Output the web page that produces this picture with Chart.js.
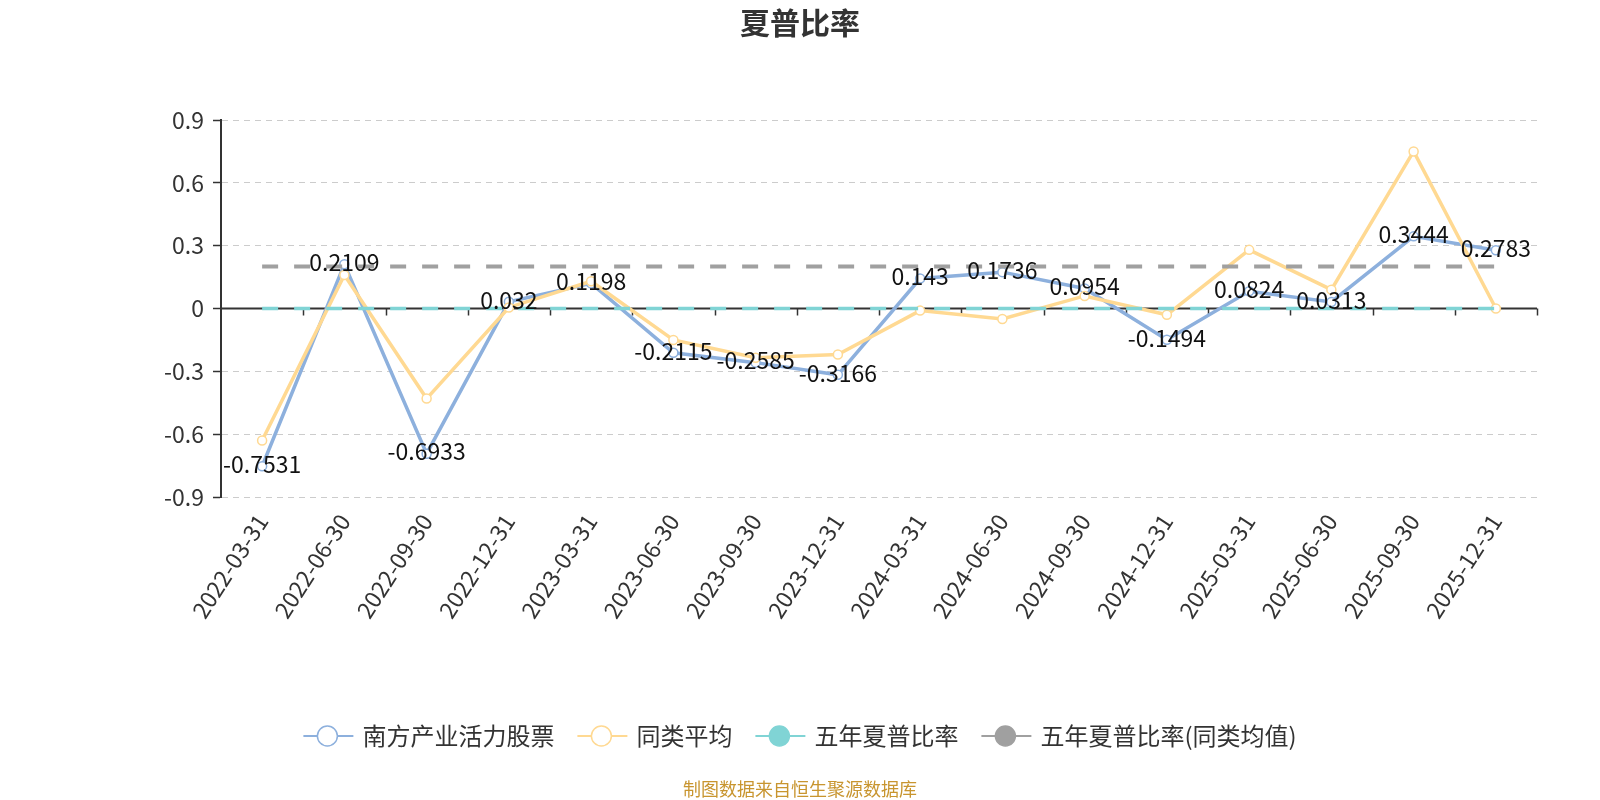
<!DOCTYPE html>
<html>
<head>
<meta charset="utf-8">
<script src="https://cdn.jsdelivr.net/npm/chart.js@4.4.1/dist/chart.umd.min.js"></script>
<style>
    html, body { margin: 0; background: #fff; }
</style>
</head>
<body>
<canvas id="sharpeChart" width="1600" height="800"></canvas>
<script>
const quarters = ["2022-03-31", "2022-06-30", "2022-09-30", "2022-12-31", "2023-03-31", "2023-06-30", "2023-09-30", "2023-12-31",
    "2024-03-31", "2024-06-30", "2024-09-30", "2024-12-31", "2025-03-31", "2025-06-30", "2025-09-30", "2025-12-31"];
const fundSharpe = [-0.7531, 0.2109, -0.6933, 0.032, 0.1198, -0.2115, -0.2585, -0.3166, 0.143, 0.1736, 0.0954, -0.1494, 0.0824, 0.0313, 0.3444, 0.2783];
const peerAverage = [-0.63, 0.16, -0.43, 0.005, 0.13, -0.15, -0.235, -0.22, -0.01, -0.05, 0.06, -0.03, 0.28, 0.09, 0.75, 0];
const fiveYearSharpe = [0, 0, 0, 0, 0, 0, 0, 0, 0, 0, 0, 0, 0, 0, 0, 0];
const fiveYearPeerSharpe = [0.2, 0.2, 0.2, 0.2, 0.2, 0.2, 0.2, 0.2, 0.2, 0.2, 0.2, 0.2, 0.2, 0.2, 0.2, 0.2];
const yTicks = [-0.9, -0.6, -0.3, 0, 0.3, 0.6, 0.9];
const seriesNames = ["南方产业活力股票", "同类平均", "五年夏普比率", "五年夏普比率(同类均值)"];

const FONT = '"Noto Sans CJK SC", "Noto Sans", sans-serif';
const BLUE = "#8DB0DD";
const YELLOW = "#FFD992";
const TEAL = "#80D4D5";
const GREY = "#A0A0A0";

// zero axis with category ticks, drawn under the lines
const zeroAxis = {
    id: "zeroAxis",
    beforeDatasetsDraw(chart) {
        const { ctx, chartArea, scales } = chart;
        const y0 = scales.y.getPixelForValue(0);
        const step = chartArea.width / quarters.length;
        ctx.save();
        ctx.strokeStyle = "#333";
        ctx.lineWidth = 2;
        ctx.beginPath();
        ctx.moveTo(chartArea.left, y0);
        ctx.lineTo(chartArea.right, y0);
        ctx.stroke();
        ctx.lineWidth = 1.5;
        for (let i = 1; i <= quarters.length; i++) {
            const x = Math.round(chartArea.left + i * step) + 0.5;
            ctx.beginPath();
            ctx.moveTo(x, y0);
            ctx.lineTo(x, y0 + 7);
            ctx.stroke();
        }
        ctx.restore();
    }
};

const valueLabels = {
    id: "valueLabels",
    afterDatasetsDraw(chart) {
        const { ctx } = chart;
        const meta = chart.getDatasetMeta(3);
        ctx.save();
        ctx.font = `23px ${FONT}`;
        ctx.fillStyle = "#111";
        ctx.textAlign = "center";
        ctx.textBaseline = "middle";
        meta.data.forEach((pt, i) => {
            ctx.fillText(String(fundSharpe[i]), pt.x, pt.y - 2);
        });
        ctx.restore();
    }
};

const decorations = {
    id: "decorations",
    afterDraw(chart) {
        const { ctx } = chart;
        ctx.save();
        ctx.textAlign = "center";
        ctx.textBaseline = "middle";
        ctx.fillStyle = "#333";
        ctx.font = `bold 30px ${FONT}`;
        ctx.fillText("夏普比率", 800, 23);

        ctx.fillStyle = "#C8952F";
        ctx.font = `18px ${FONT}`;
        ctx.fillText("制图数据来自恒生聚源数据库", 800, 789);

        // legend
        const items = [
            { color: BLUE, filled: false },
            { color: YELLOW, filled: false },
            { color: TEAL, filled: true },
            { color: GREY, filled: true }
        ];
        ctx.font = `24px ${FONT}`;
        const widths = seriesNames.map((n) => ctx.measureText(n).width);
        const total = widths.reduce((a, b) => a + b, 0) + items.length * 59 + (items.length - 1) * 23;
        let x = 800 - total / 2;
        const y = 736;
        items.forEach((item, i) => {
            ctx.strokeStyle = item.color;
            ctx.lineWidth = 2;
            ctx.beginPath();
            ctx.moveTo(x, y);
            ctx.lineTo(x + 50, y);
            ctx.stroke();
            ctx.beginPath();
            ctx.arc(x + 24, y, 10, 0, Math.PI * 2);
            ctx.fillStyle = item.filled ? item.color : "#fff";
            ctx.fill();
            ctx.lineWidth = 1.5;
            ctx.stroke();
            ctx.fillStyle = "#333";
            ctx.textAlign = "left";
            ctx.fillText(seriesNames[i], x + 59, y);
            x += 59 + widths[i] + 23;
        });
        ctx.restore();
    }
};

new Chart(document.querySelector("#sharpeChart"), {
    type: "line",
    data: {
        labels: quarters,
        datasets: [
            {
                label: seriesNames[3],
                data: fiveYearPeerSharpe,
                borderColor: GREY,
                borderWidth: 4,
                borderDash: [16, 16],
                pointRadius: 0,
                order: 1
            },
            {
                label: seriesNames[2],
                data: fiveYearSharpe,
                borderColor: TEAL,
                borderWidth: 3.5,
                borderDash: [16, 16],
                pointRadius: 0,
                order: 2
            },
            {
                label: seriesNames[1],
                data: peerAverage,
                borderColor: YELLOW,
                borderWidth: 3.5,
                pointRadius: 4.5,
                pointBackgroundColor: "#fff",
                pointBorderColor: YELLOW,
                pointBorderWidth: 1.5,
                order: 3
            },
            {
                label: seriesNames[0],
                data: fundSharpe,
                borderColor: BLUE,
                borderWidth: 3.5,
                pointRadius: 4.5,
                pointBackgroundColor: "#fff",
                pointBorderColor: BLUE,
                pointBorderWidth: 1.5,
                order: 4
            }
        ]
    },
    options: {
        responsive: false,
        animation: false,
        layout: { padding: { left: 161, right: 63, top: 120, bottom: 0 } },
        plugins: {
            legend: { display: false },
            title: { display: false },
            tooltip: { enabled: false }
        },
        scales: {
            x: {
                offset: true,
                grid: { display: false, drawTicks: false },
                border: { display: false },
                ticks: {
                    color: "#333",
                    font: { family: FONT, size: 23 },
                    minRotation: 57,
                    maxRotation: 57,
                    autoSkip: false,
                    padding: 12
                },
                afterFit: (scale) => { scale.height = 303; }
            },
            y: {
                min: -0.9,
                max: 0.9,
                afterBuildTicks: (scale) => { scale.ticks = yTicks.map((v) => ({ value: v })); },
                grid: {
                    color: "#CCCCCC",
                    lineWidth: 1,
                    tickBorderDash: [],
                    tickColor: "#333",
                    tickLength: 8,
                    tickWidth: 1.5
                },
                border: { color: "#333", width: 2, dash: [6, 5] },
                ticks: {
                    color: "#333",
                    font: { family: FONT, size: 23 },
                    padding: 9,
                    callback: (v) => String(v)
                },
                afterFit: (scale) => { scale.width = 60; }
            }
        }
    },
    plugins: [zeroAxis, valueLabels, decorations]
});
</script>
</body>
</html>
